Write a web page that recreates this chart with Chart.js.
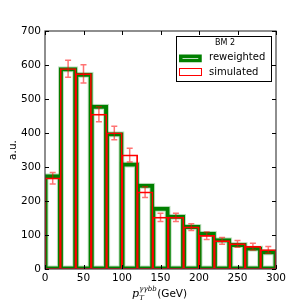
<!DOCTYPE html>
<html><head><meta charset="utf-8">
<script src="https://cdn.jsdelivr.net/npm/chart.js@4"></script>
<style>html,body{margin:0;padding:0;background:#fff}</style>
</head><body>
<canvas id="c" width="307" height="307"></canvas>
<script>
// bin centres, 20 GeV wide bins
var binCenters = [10, 30, 50, 70, 90, 110, 130, 150, 170, 190, 210, 230, 250, 270, 290];
var reweighted = [274, 589, 573, 479, 398, 309, 246, 179, 155, 125, 105, 86, 72, 62, 51];
var simulated = [267, 589, 574, 455, 400, 335, 226, 152, 152, 123, 98, 83, 74, 66, 56];
var simErr = [17, 25, 27, 22, 20, 20, 16, 12, 12, 10, 11, 10, 10, 10, 10];
var xTicks = [0, 50, 100, 150, 200, 250, 300];
var yTicks = [0, 100, 200, 300, 400, 500, 600, 700];

var tickFont = {family: 'DejaVu Sans', size: 10.5};

function pts(vals) {
    return vals.map(function (v, i) { return {x: binCenters[i], y: v}; });
}

function outline(label, vals, color, bw, inflate) {
    return {
        label: label,
        data: pts(vals),
        backgroundColor: 'rgba(0,0,0,0)',
        borderColor: color,
        borderWidth: bw,
        inflateAmount: inflate,   // grow the ring outwards so it sits on the bin edge like mpl
        borderSkipped: false,
        grouped: false,
        barPercentage: 1,
        categoryPercentage: 1
    };
}

var extras = {
    id: 'extras',
    afterDatasetsDraw: function (chart) {
        var ctx = chart.ctx, a = chart.chartArea;
        var xs = chart.scales.x, ys = chart.scales.y;

        // error bars on the simulated sample
        ctx.save();
        ctx.strokeStyle = 'rgba(255,0,0,0.55)';
        ctx.lineWidth = 1.5;
        for (var i = 0; i < simulated.length; i++) {
            var px = xs.getPixelForValue(binCenters[i]);
            var y1 = ys.getPixelForValue(simulated[i] + simErr[i]);
            var y2 = ys.getPixelForValue(simulated[i] - simErr[i]);
            ctx.beginPath();
            ctx.moveTo(px, y1); ctx.lineTo(px, y2);
            ctx.moveTo(px - 3, y1); ctx.lineTo(px + 3, y1);
            ctx.moveTo(px - 3, y2); ctx.lineTo(px + 3, y2);
            ctx.stroke();
        }
        ctx.restore();

        // frame and inward ticks
        ctx.save();
        ctx.strokeStyle = '#444';
        ctx.lineWidth = 1.2;
        ctx.strokeRect(a.left, a.top, a.right - a.left, a.bottom - a.top);
        ctx.strokeStyle = '#000';
        ctx.lineWidth = 1;
        ctx.beginPath();
        xTicks.forEach(function (t) {
            var px = Math.round(xs.getPixelForValue(t)) + 0.5;
            ctx.moveTo(px, a.bottom); ctx.lineTo(px, a.bottom - 4);
            ctx.moveTo(px, a.top); ctx.lineTo(px, a.top + 4);
        });
        yTicks.forEach(function (t) {
            var py = Math.round(ys.getPixelForValue(t)) + 0.5;
            ctx.moveTo(a.left, py); ctx.lineTo(a.left + 4, py);
            ctx.moveTo(a.right, py); ctx.lineTo(a.right - 4, py);
        });
        ctx.stroke();
        ctx.restore();

        // legend
        ctx.save();
        ctx.fillStyle = '#fff';
        ctx.fillRect(176, 36, 96, 45);
        ctx.strokeStyle = '#000';
        ctx.lineWidth = 1;
        ctx.strokeRect(176.5, 36.5, 95, 45);
        ctx.fillStyle = '#000';
        ctx.textBaseline = 'middle';
        ctx.textAlign = 'center';
        ctx.font = '8px "DejaVu Sans"';
        ctx.fillText('BM 2', 225, 43);
        ctx.strokeStyle = '#008000';
        ctx.lineWidth = 3.5;
        ctx.strokeRect(180.75, 56.25, 19.25, 4.25);
        ctx.strokeStyle = '#ff0000';
        ctx.lineWidth = 1;
        ctx.strokeRect(179.5, 68.5, 22, 7);
        ctx.textAlign = 'left';
        ctx.font = '10px "DejaVu Sans"';
        ctx.fillText('reweighted', 209, 57.5);
        ctx.fillText('simulated', 209, 72.5);
        ctx.restore();

        // axis titles
        ctx.save();
        ctx.fillStyle = '#000';
        ctx.textBaseline = 'alphabetic';
        ctx.font = '10.5px "DejaVu Sans"';
        ctx.translate(16, 150);
        ctx.rotate(-Math.PI / 2);
        ctx.textAlign = 'center';
        ctx.fillText('a.u.', 0, 0);
        ctx.restore();

        ctx.save();
        ctx.fillStyle = '#000';
        ctx.textBaseline = 'alphabetic';
        var x = 132, base = 297;
        ctx.font = 'italic 11px "DejaVu Serif"';
        ctx.fillText('p', x, base);
        x += ctx.measureText('p').width + 0.3;
        ctx.font = 'italic 7px "DejaVu Serif"';
        ctx.fillText('T', x, base + 3);
        ctx.fillText('\u03b3\u03b3bb', x, base - 6);
        x += ctx.measureText('\u03b3\u03b3bb').width + 0.5;
        ctx.font = '10.5px "DejaVu Sans"';
        ctx.fillText('(GeV)', x, base);
        ctx.restore();
    }
};

new Chart(document.getElementById('c'), {
    type: 'bar',
    data: {
        datasets: [
            outline('simulated', simulated, '#ff0000', 0.5, 0.6),
            outline('reweighted', reweighted, '#008000', 1, 1.5),
            outline('', reweighted, 'rgba(0,128,0,0.25)', 1, 2.5)
        ]
    },
    options: {
        responsive: false,
        devicePixelRatio: 1,
        animation: false,
        layout: {padding: {top: 31, right: 31, left: 0, bottom: 0}},
        plugins: {legend: {display: false}, tooltip: {enabled: false}},
        scales: {
            x: {
                type: 'linear', min: 0, max: 300, offset: false,
                afterBuildTicks: function (s) { s.ticks = xTicks.map(function (v) { return {value: v}; }); },
                afterFit: function (s) { s.height = 38; },
                grid: {display: false, drawTicks: false},
                border: {display: false},
                ticks: {font: tickFont, color: '#000', padding: 3, maxRotation: 0, autoSkip: false}
            },
            y: {
                min: 0, max: 700,
                afterBuildTicks: function (s) { s.ticks = yTicks.map(function (v) { return {value: v}; }); },
                afterFit: function (s) { s.width = 45; },
                grid: {display: false, drawTicks: false},
                border: {display: false},
                ticks: {font: tickFont, color: '#000', padding: 4}
            }
        }
    },
    plugins: [extras]
});
</script>
</body></html>
